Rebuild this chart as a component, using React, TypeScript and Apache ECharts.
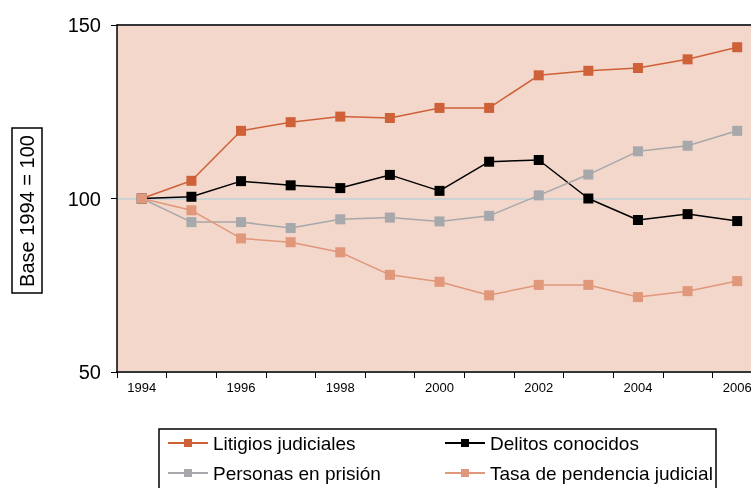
import React, { useEffect, useRef } from "react";
import * as echarts from "echarts";

const years = ["1994","1995","1996","1997","1998","1999","2000","2001","2002","2003","2004","2005","2006"];
const litigios = [100, 105.1, 119.5, 122, 123.6, 123.2, 126.1, 126.1, 135.5, 136.8, 137.6, 140.1, 143.6];
const delitos = [100, 100.5, 105, 103.8, 103, 106.8, 102.2, 110.6, 111.1, 100, 93.8, 95.5, 93.5];
const personas = [100, 93.2, 93.2, 91.5, 94, 94.5, 93.4, 95, 100.9, 106.9, 113.6, 115.2, 119.5];
const tasa = [100, 96.6, 88.5, 87.4, 84.5, 78, 76, 72.1, 75.1, 75.1, 71.6, 73.3, 76.2];
const yTicks = [50, 100, 150];
const names = ["Litigios judiciales", "Delitos conocidos", "Personas en prisión", "Tasa de pendencia judicial"];
const colors = ["#CF6139", "#000000", "#A7A8AB", "#E0977A"];

const FONT = "Liberation Sans, Arial, sans-serif";

export default function App() {
  const ref = useRef<HTMLDivElement>(null);
  useEffect(() => {
    const chart = echarts.init(ref.current!, undefined, { renderer: "svg" });
    const datasets = [litigios, delitos, personas, tasa];
    const series: any[] = datasets.map((d, i) => ({
      type: "line",
      name: names[i],
      data: d,
      symbol: "rect",
      symbolSize: 10,
      lineStyle: { color: colors[i], width: 1.5 },
      itemStyle: { color: colors[i], borderColor: colors[i], borderWidth: 0 },
      z: 3 + i,
    }));
    const legendCommon = {
      orient: "vertical",
      top: 433,
      itemWidth: 40,
      itemHeight: 10,
      itemGap: 10,
      padding: 0,
      textStyle: { fontSize: 19, lineHeight: 20, color: "#000", fontFamily: FONT },
    };
    chart.setOption({
      animation: false,
      textStyle: { fontFamily: FONT },
      grid: {
        left: 117, top: 25, width: 645, height: 347,
        show: true, backgroundColor: "#F2D7CA", borderWidth: 0,
        outerBoundsMode: "none", containLabel: false,
      },
      xAxis: [
        {
          type: "category",
          data: years,
          boundaryGap: true,
          axisLine: { lineStyle: { color: "#000", width: 1.5 } },
          axisTick: { show: true, length: 6, alignWithLabel: false, interval: 0, lineStyle: { color: "#000" } },
          axisLabel: { interval: 1, fontSize: 13, color: "#000", margin: 9, fontFamily: FONT },
        },
        {
          type: "category",
          data: years,
          position: "top",
          axisLine: { show: true, lineStyle: { color: "#000", width: 1.5 } },
          axisTick: { show: false },
          axisLabel: { show: false },
        },
      ],
      yAxis: {
        type: "value",
        min: 50,
        max: 150,
        interval: 50,
        axisLine: { show: true, lineStyle: { color: "#000", width: 1.5 } },
        axisTick: { show: true, length: 6, lineStyle: { color: "#000" } },
        axisLabel: { fontSize: 20, color: "#000", margin: 16, fontFamily: FONT, customValues: yTicks },
        splitLine: { show: true, lineStyle: { color: "#CDD2D5", width: 2 } },
      },
      legend: [
        { ...legendCommon, data: [names[0], names[2]], left: 167 },
        { ...legendCommon, data: [names[1], names[3]], left: 444 },
      ],
      graphic: [
        {
          type: "rect",
          shape: { x: 159, y: 429, width: 557, height: 80 },
          style: { fill: "none", stroke: "#000", lineWidth: 1.5 },
          silent: true,
        },
        {
          type: "rect",
          shape: { x: 12, y: 128, width: 30, height: 165 },
          style: { fill: "#fff", stroke: "#000", lineWidth: 1.5 },
          silent: true,
        },
        {
          type: "text",
          x: 27,
          y: 211,
          rotation: Math.PI / 2,
          style: { text: "Base 1994 = 100", fontSize: 20, fill: "#000", align: "center", verticalAlign: "middle", fontFamily: FONT },
          silent: true,
        },
      ],
      series,
    });
    return () => chart.dispose();
  }, []);
  return <div ref={ref} style={{ position: "fixed", left: 0, top: 0, width: 751, height: 488 }} />;
}
